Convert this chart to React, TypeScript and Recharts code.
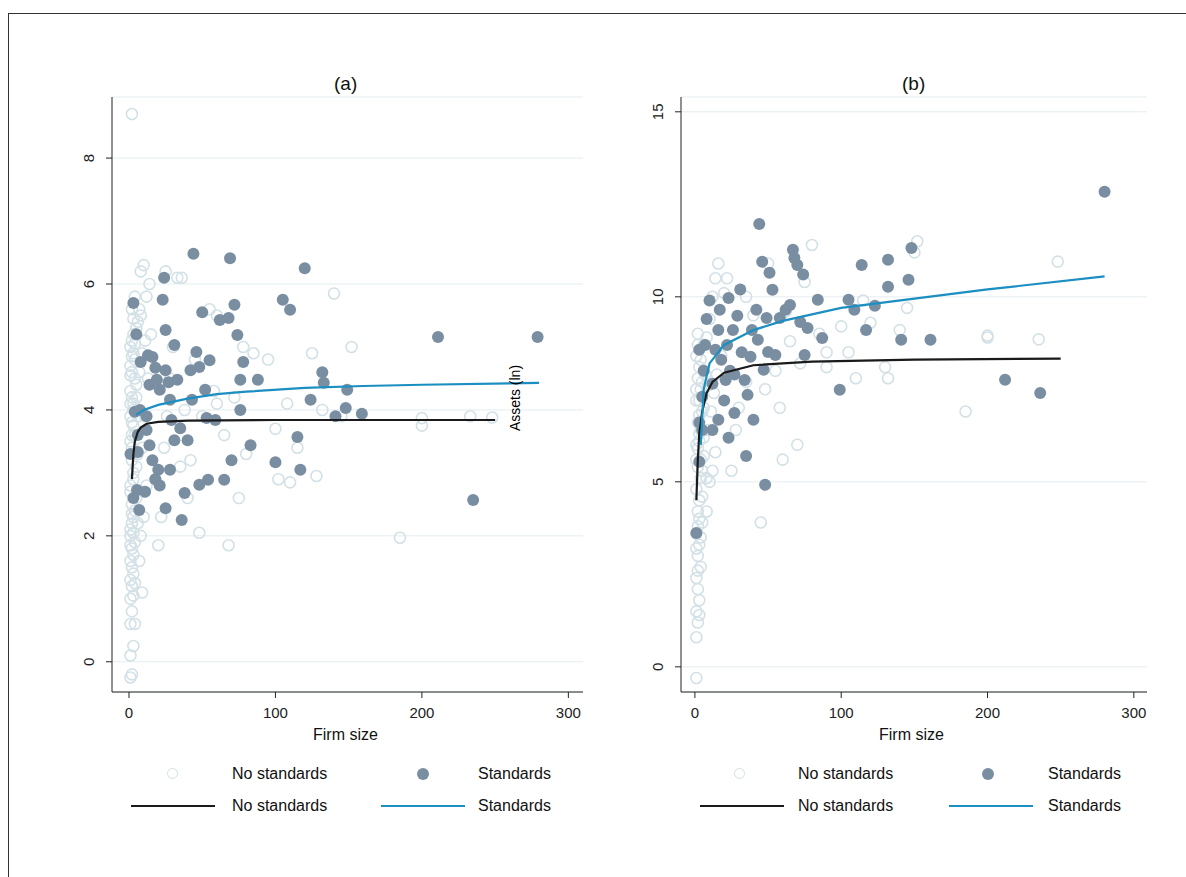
import { Scatter, XAxis, YAxis, CartesianGrid, ComposedChart } from "recharts"

// panel (a): [firm size, value]
const aNoStd: [number, number][] = [
  [2,8.7],[1,0.1],[2,-0.2],[1,-0.25],[3,0.25],[1,0.6],[2,0.8],[4,0.6],[1,1.0],[2,1.2],[3,1.4],[1,1.6],[2,1.8],[4,1.9],
  [1,2.1],[3,2.3],[2,2.5],[5,2.6],[1,2.8],[3,3.0],[2,3.2],[6,3.3],[1,3.5],[4,3.6],[2,3.8],[3,4.1],[1,4.3],[5,4.4],
  [2,4.6],[4,4.8],[1,5.0],[3,5.2],[6,5.4],[2,5.6],[4,5.8],[1,1.3],[2,1.5],[3,1.7],[1,2.0],[2,2.2],[4,2.4],[1,2.7],
  [3,2.9],[5,3.1],[2,3.4],[1,3.9],[3,4.0],[2,4.2],[4,4.5],[1,4.7],[3,4.9],[2,5.1],[5,5.3],[8,6.2],[10,6.3],[12,5.8],
  [14,6.0],[9,1.1],[7,1.6],[8,2.0],[10,2.3],[12,2.8],[9,3.4],[11,3.9],[13,4.5],[15,5.2],[8,5.5],[20,1.85],[22,2.3],
  [18,2.9],[24,3.4],[26,3.9],[28,4.5],[30,5.0],[33,6.1],[36,6.1],[25,6.2],[40,2.6],[42,3.2],[45,4.8],[48,2.05],
  [55,5.6],[58,4.3],[60,5.5],[65,3.6],[68,1.85],[72,4.2],[75,2.6],[78,5.0],[80,3.3],[85,4.9],[95,4.8],[100,3.7],
  [102,2.9],[108,4.1],[110,2.85],[115,3.4],[125,4.9],[128,2.95],[132,4.0],[140,5.85],[145,3.9],[152,5.0],[185,1.97],
  [200,3.75],[200,3.87],[233,3.9],[248,3.88],[60,4.1],[50,3.9],[35,3.1],[38,4.0],
  [1,4.1],[2,3.6],[3,3.75],[1,4.55],[2,4.85],[3,5.45],[4,5.05],[2,2.35],[3,2.05],[1,1.85],[4,1.25],[3,1.05],[5,4.2],
  [6,3.9],[7,4.6],[6,2.2],[7,5.6],[9,4.9],[10,2.7],[11,5.1],
]
const aStd: [number, number][] = [
  [3,5.7],[5,5.2],[4,3.97],[7.5,4.0],[6,3.6],[6,3.33],[5.5,2.73],[7,2.41],[8,4.76],[13,4.87],[14,4.4],[16,4.84],
  [18,4.67],[19,4.48],[21,4.32],[23,5.75],[24,6.1],[25,5.27],[25,4.63],[27,4.44],[28,4.16],[29,3.84],[31,3.52],
  [14,3.44],[16,3.2],[18,2.9],[20,3.05],[21,2.8],[25,2.44],[28,3.05],[31,5.03],[33,4.48],[35,3.71],[36,2.25],
  [38,2.68],[40,3.52],[42,4.63],[43,4.16],[44,6.48],[46,4.92],[48,4.68],[48,2.81],[50,5.55],[52,4.32],[53,3.87],
  [54,2.89],[55,4.79],[59,3.84],[62,5.43],[65,2.89],[68,5.46],[69,6.41],[70,3.2],[72,5.67],[74,5.19],[76,4.48],
  [76,4.0],[78,4.76],[83,3.44],[88,4.48],[100,3.17],[105,5.75],[110,5.59],[115,3.57],[117,3.05],[120,6.25],
  [124,4.16],[132,4.6],[133,4.43],[141,3.9],[148,4.03],[149,4.32],[159,3.94],[211,5.16],[235,2.57],[279,5.16],
  [1,3.3],[3,2.6],[11,2.7],[12,3.68],[12,3.9],
]
const aFitNo: [number, number][] = [[2,2.9],[3,3.3],[4,3.5],[6,3.65],[8,3.72],[12,3.78],[20,3.81],[40,3.83],[100,3.84],[250,3.84]]
const aFitStd: [number, number][] = [[5,3.92],[10,4.0],[20,4.08],[40,4.18],[60,4.25],[80,4.29],[120,4.35],[160,4.38],[200,4.4],[280,4.43]]

// panel (b)
const bNoStd: [number, number][] = [
  [1,-0.3],[1,0.8],[2,1.2],[1,1.5],[3,1.8],[2,2.1],[1,2.4],[4,2.7],[2,3.0],[3,3.3],[1,3.6],[5,3.9],[2,4.2],[3,4.5],
  [1,4.8],[4,5.1],[2,5.4],[6,5.7],[1,6.0],[3,6.3],[2,6.6],[5,6.9],[1,7.2],[4,7.5],[2,7.8],[3,8.1],[1,8.4],[6,8.7],
  [2,9.0],[3,1.4],[2,2.6],[4,3.5],[3,4.0],[5,4.6],[4,5.6],[3,6.1],[6,7.0],[5,7.7],[4,8.3],[8,8.9],[10,9.4],[12,10.0],
  [14,10.5],[16,10.9],[8,4.2],[10,5.0],[12,5.3],[14,5.8],[9,6.4],[11,6.9],[13,7.4],[15,7.9],[18,8.4],[20,10.1],
  [22,10.5],[25,5.3],[28,6.4],[30,7.0],[35,7.7],[40,9.5],[45,3.9],[48,7.5],[50,10.9],[55,8.0],[58,7.0],[60,5.6],
  [62,9.6],[65,8.8],[70,6.0],[72,8.2],[75,10.4],[80,11.4],[85,9.0],[90,8.5],[100,9.2],[105,8.5],[110,7.8],[115,9.9],
  [120,9.3],[130,8.1],[132,7.8],[140,9.1],[145,9.7],[150,11.2],[152,11.5],[185,6.9],[200,8.9],[200,8.95],[235,8.85],
  [248,10.95],[90,8.1],[35,10.0],
  [1,5.6],[2,5.9],[3,6.8],[1,7.5],[2,8.7],[3,7.2],[4,6.4],[5,5.3],[6,6.2],[7,7.9],[8,5.1],[9,7.6],[1,3.2],[2,3.8],
]
const bStd: [number, number][] = [
  [280,12.84],[1,3.62],[3,5.54],[3,6.6],[5,7.3],[6,8.0],[7,8.7],[8,9.4],[10,9.9],[12,7.65],[14,8.57],[16,9.1],
  [17,9.65],[18,8.3],[20,7.2],[22,8.7],[23,9.97],[24,8.0],[26,9.1],[27,6.86],[29,9.49],[31,10.2],[32,8.5],[34,7.75],
  [35,5.7],[36,7.35],[38,8.38],[39,9.1],[40,6.68],[42,9.65],[43,8.84],[44,11.97],[46,10.95],[47,8.03],[48,4.92],
  [49,9.43],[50,8.51],[51,10.65],[53,10.19],[55,8.43],[58,9.43],[62,9.65],[65,9.78],[67,11.27],[68,11.05],
  [70,10.86],[72,9.32],[74,10.6],[75,8.43],[77,9.16],[84,9.92],[87,8.89],[99,7.49],[105,9.92],[109,9.65],
  [114,10.86],[117,9.1],[123,9.76],[132,10.27],[132,11.0],[141,8.84],[146,10.46],[148,11.32],[161,8.84],[212,7.76],
  [236,7.4],[3,8.57],[5,6.4],[12,6.4],[16,6.68],[21,7.75],[23,6.19],[27,7.9],
]
const bFitNo: [number, number][] = [[1,4.5],[2,5.6],[3,6.3],[5,6.9],[8,7.4],[12,7.7],[20,7.95],[40,8.15],[80,8.25],[150,8.3],[250,8.33]]
const bFitStd: [number, number][] = [[4,6.0],[6,7.5],[10,8.2],[20,8.7],[40,9.1],[60,9.35],[100,9.7],[150,9.95],[200,10.2],[280,10.55]]

const xTicks = [0, 100, 200, 300]
const aYTicks = [0, 2, 4, 6, 8]
const bYTicks = [0, 5, 10, 15]

const FONT = "'Liberation Sans', Arial, sans-serif"
const HOLLOW = "#d3e1e7"
const FILLED = "#7a8ea2"
const BLACK = "#1a1a1a"
const BLUE = "#1b8fc1"

const toPts = (d: [number, number][]) => d.map(([x, y]) => ({ x, y }))

const Hollow = (p: any) => <circle cx={p.cx} cy={p.cy} r={5.5} fill="none" stroke={HOLLOW} strokeWidth={1.6} />
const Filled = (p: any) => <circle cx={p.cx} cy={p.cy} r={6} fill={FILLED} />

const YTick = (p: any) => (
  <text x={p.x - 10} y={p.y} transform={`rotate(-90 ${p.x - 10} ${p.y})`} textAnchor="middle" fontSize={15} fontFamily={FONT} fill="#222">
    {p.payload.value}
  </text>
)

const XTick = (p: any) => (
  <text x={p.x} y={p.y + 18} textAnchor="middle" fontSize={15} fontFamily={FONT} fill="#222">
    {p.payload.value}
  </text>
)

function Panel(props: {
  left: number; marginRight: number; yDomain: [number, number]; yTicks: number[]; xDomain: [number, number]
  noStd: [number, number][]; std: [number, number][]; fitNo: [number, number][]; fitStd: [number, number][]
}) {
  return (
    <div style={{ position: "absolute", left: props.left, top: 0 }}>
      <ComposedChart width={600} height={720} margin={{ top: 97, right: props.marginRight, bottom: 0, left: 72 }}>
        <CartesianGrid horizontal vertical={false} stroke="#e4edf0" />
        <XAxis type="number" dataKey="x" domain={props.xDomain} ticks={xTicks} height={28} allowDataOverflow
          stroke="#222" tick={<XTick />} tickSize={6} />
        <YAxis type="number" dataKey="y" domain={props.yDomain} ticks={props.yTicks} width={40} allowDataOverflow
          stroke="#222" tick={<YTick />} tickSize={6} />
        <Scatter data={toPts(props.noStd)} shape={<Hollow />} isAnimationActive={false} />
        <Scatter data={toPts(props.std)} shape={<Filled />} isAnimationActive={false} />
        <Scatter data={toPts(props.fitNo)} line={{ stroke: BLACK, strokeWidth: 2.2 }} shape={() => null} isAnimationActive={false} />
        <Scatter data={toPts(props.fitStd)} line={{ stroke: BLUE, strokeWidth: 2.2 }} shape={() => null} isAnimationActive={false} />
      </ComposedChart>
    </div>
  )
}

const txt = (x: number, y: number, s: string, extra: any = {}) => (
  <div style={{ position: "absolute", left: x, top: y, fontSize: 16, fontFamily: FONT, color: "#111", whiteSpace: "nowrap", ...extra }}>{s}</div>
)

function Legend(props: { hx: number; t1: number; fx: number; t2: number; l1: number; l2: number }) {
  return (
    <>
      <div style={{ position: "absolute", left: props.hx - 6, top: 768, width: 9, height: 9, border: `1.6px solid ${HOLLOW}`, borderRadius: "50%" }} />
      {txt(props.t1, 765, "No standards")}
      <div style={{ position: "absolute", left: props.fx - 6, top: 768, width: 12, height: 12, background: FILLED, borderRadius: "50%" }} />
      {txt(props.t2, 765, "Standards")}
      <div style={{ position: "absolute", left: props.l1, top: 805, width: 84, height: 2, background: BLACK }} />
      {txt(props.t1, 797, "No standards")}
      <div style={{ position: "absolute", left: props.l2, top: 805, width: 84, height: 2, background: BLUE }} />
      {txt(props.t2, 797, "Standards")}
    </>
  )
}

export default function App() {
  return (
    <div style={{ position: "absolute", left: 0, top: 0, width: 1186, height: 877, background: "#fff", overflow: "hidden" }}>
      <div style={{ position: "absolute", left: 8, top: 13, width: 1200, height: 900, borderLeft: "1px solid #333", borderTop: "1px solid #333" }} />
      <Panel left={0} marginRight={17} xDomain={[-11.6, 310]} yDomain={[-0.48, 8.97]} yTicks={aYTicks}
        noStd={aNoStd} std={aStd} fitNo={aFitNo} fitStd={aFitStd} />
      <Panel left={569} marginRight={22} xDomain={[-9.5, 309]} yDomain={[-0.68, 15.4]} yTicks={bYTicks}
        noStd={bNoStd} std={bStd} fitNo={bFitNo} fitStd={bFitStd} />
      {txt(334, 73, "(a)", { fontSize: 19 })}
      {txt(902, 73, "(b)", { fontSize: 19 })}
      {txt(313, 726, "Firm size")}
      {txt(879, 726, "Firm size")}
      <div style={{ position: "absolute", left: 475, top: 390, transform: "rotate(-90deg)", fontSize: 14, fontFamily: FONT, whiteSpace: "nowrap", width: 80, textAlign: "center" }}>Assets (ln)</div>
      <Legend hx={173} t1={232} fx={423} t2={478} l1={131} l2={381} />
      <Legend hx={740} t1={798} fx={988} t2={1048} l1={700} l2={949} />
    </div>
  )
}
